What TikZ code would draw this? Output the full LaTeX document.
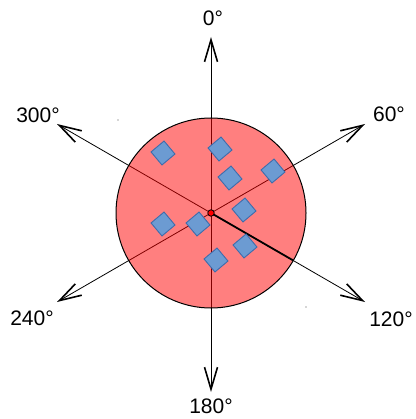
\documentclass[tikz,border=0pt]{standalone}
\usepackage{fontspec}
\setmainfont{Liberation Sans}
\usetikzlibrary{arrows.meta}
\definecolor{dfill}{RGB}{108,155,210}
\definecolor{dline}{RGB}{62,108,172}
\begin{document}
\begin{tikzpicture}[x=1pt,y=-1pt,
  axis/.style={draw=black,line width=0.8pt,-{Straight Barb[length=22pt,width=13pt,line width=1.6pt]}},
  lbl/.style={font=\fontsize{21}{24}\selectfont,inner sep=0pt},
  dia/.style={draw=dline,fill=dfill,line width=0.9pt,minimum size=17pt,inner sep=0pt,rotate=40}]
\useasboundingbox (0,0) rectangle (415,419);
\coordinate (c) at (211,213);
\coordinate (t0) at (211,37);
\coordinate (t180) at (211,392);
\coordinate (t60) at (365,124);
\coordinate (t120) at (365,302);
\coordinate (t240) at (57,302);
\coordinate (t300) at (57,124);
\foreach \t in {t0,t60,t120,t180,t240,t300}
  \draw[axis] (c) -- (\t);
\node[circle,minimum size=190pt,inner sep=0pt,draw=black,line width=1pt,fill=red,fill opacity=0.5] (disk) at (c) {};
\coordinate (e120) at (293.3,260.5);
\draw[line width=1.8pt] (c) -- (e120);
\foreach \n/\p in {d1/{(163,153)},d2/{(220,149)},d3/{(230,178)},d4/{(273,171)},d5/{(244,210)},d6/{(163,224)},d7/{(198,224)},d8/{(245,246)},d9/{(216,260)}}
  \node[dia] (\n) at \p {};
\node[circle,draw=black,fill=red,line width=0.8pt,minimum size=6.5pt,inner sep=0pt] (ctr) at (c) {};
\node[lbl] (l0) at (213,18) {0°};
\node[lbl] (l60) at (389,114) {60°};
\node[lbl] (l120) at (391,319) {120°};
\node[lbl] (l180) at (211,406.5) {180°};
\node[lbl] (l240) at (32,318) {240°};
\node[lbl] (l300) at (38,115) {300°};
\fill[black!70] (118,120) circle (0.7);
\fill[black!70] (306,307) circle (0.7);
\end{tikzpicture}
\end{document}
